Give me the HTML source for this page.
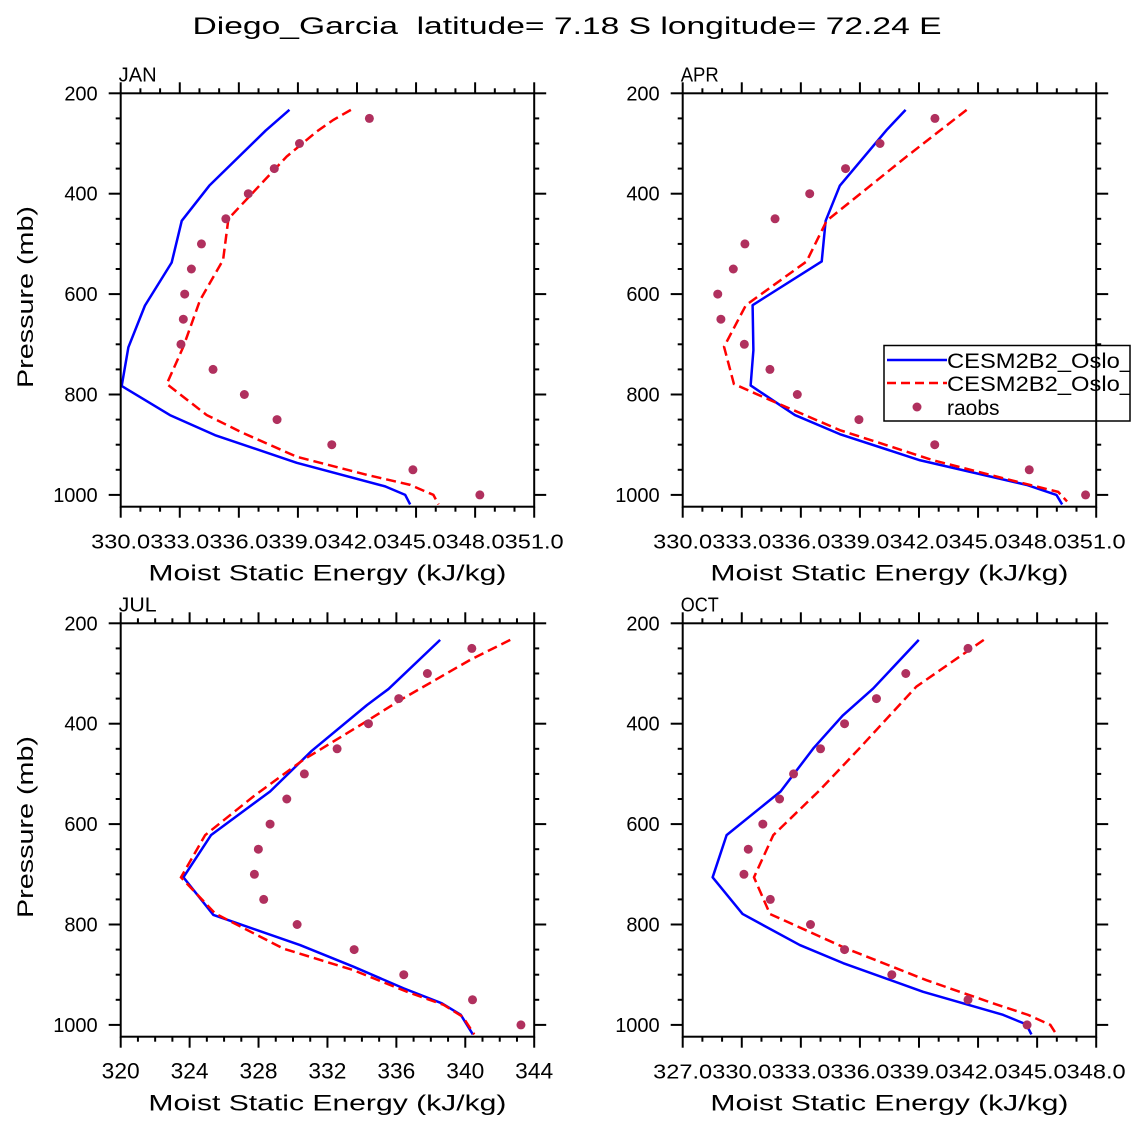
<!DOCTYPE html>
<html><head><meta charset="utf-8"><style>
html,body{margin:0;padding:0;background:#fff;}
svg{display:block;font-family:"Liberation Sans",sans-serif;}
</style></head><body>
<svg id="c" width="1135" height="1135" viewBox="0 0 1135 1135" xmlns="http://www.w3.org/2000/svg">
<text x="567" y="34" font-size="24" text-anchor="middle" textLength="749" lengthAdjust="spacingAndGlyphs" xml:space="preserve">Diego_Garcia  latitude= 7.18 S longitude= 72.24 E</text>
</svg>
<script>
// JAN
const janBlueP=[233,274,384,454,537,623,706,783,841,881,936,983,1000,1019];
const janBlueV=[338.57,337.37,334.50,333.10,332.59,331.23,330.39,330.05,332.5,334.79,338.94,343.43,344.45,344.7];
const janRedP=[233,253,276,326,450,532,612,705,779,841,877,924,960,980,1000,1019];
const janRedV=[341.69,340.8,339.96,338.43,335.47,335.2,334.03,333.18,332.34,334.37,336.23,338.94,342.5,344.7,345.88,346.14];
const janObsV=[342.63,339.08,337.8,336.48,335.34,334.1,333.59,333.25,333.18,333.06,334.69,336.28,337.94,340.72,344.84,348.24];
// APR
const aprBlueP=[233,273,384,454,535,622,712,782,841,879,931,980,1000,1019];
const aprBlueV=[341.32,340.36,337.98,337.26,337.06,333.55,333.59,333.45,335.7,337.98,342.05,347.46,348.98,349.27];
const aprRedP=[233,326,454,535,622,705,779,811,871,931,970,994,1013];
const aprRedV=[344.42,341.37,337.31,336.29,333.21,332.1,332.6,334.43,337.98,342.72,346.6,349.07,349.52];
const aprObsV=[342.81,340.02,338.27,336.45,334.69,333.16,332.57,331.78,331.94,333.13,334.43,335.82,338.95,342.8,347.6,350.46];
// JUL
const julBlueP=[233,331,363,454,535,622,706,781,841,884,927,957,980,1019];
const julBlueV=[338.54,335.54,334.29,331.09,328.67,325.24,323.64,325.38,330.41,333.51,336.41,338.64,339.74,340.44];
const julRedP=[233,273,353,399,472,545,622,706,778,848,891,934,960,984,1019];
const julRedV=[342.61,340.28,336.22,334.09,330.6,327.7,324.9,323.5,325.48,329.44,333.51,336.61,338.74,339.86,340.52];
const julObsV=[340.38,337.8,336.14,334.38,332.56,330.66,329.64,328.67,327.99,327.76,328.3,330.24,333.55,336.43,340.42,343.23];
// OCT
const octBlueP=[233,330,384,448,535,622,706,779,841,877,934,980,999,1019];
const octBlueV=[338.99,336.67,335.12,333.66,331.97,329.23,328.52,330.04,332.95,335.15,339.21,343.27,344.45,344.71];
const octRedP=[233,326,448,532,622,706,779,848,911,957,980,1000,1019];
const octRedV=[342.29,338.87,336.0,333.97,331.6,330.62,331.43,335.32,339.38,342.76,344.54,345.67,345.98];
const octObsV=[341.49,338.33,336.84,335.22,334.0,332.63,331.92,331.07,330.33,330.11,331.45,333.49,335.22,337.62,341.49,344.49];
const obsP=[250,300,350,400,450,500,550,600,650,700,750,800,850,900,950,1000];
const yTicks=[200,400,600,800,1000];
const legendLabels=["CESM2B2_Oslo_CAM6","CESM2B2_Oslo_CAM6","raobs"];

const NS="http://www.w3.org/2000/svg";
const svg=document.getElementById('c');
function mk(tag,attrs,parent){const e=document.createElementNS(NS,tag);for(const k in attrs)e.setAttribute(k,attrs[k]);(parent||svg).appendChild(e);return e;}

const panels=[
 {name:'jan',label:'JAN',L:120.7,T:93.3,xmin:330,xmax:351,major:3,minor:1,dec:1,b:[janBlueP,janBlueV],r:[janRedP,janRedV],o:janObsV},
 {name:'apr',label:'APR',L:682.7,T:93.3,xmin:330,xmax:351,major:3,minor:1,dec:1,b:[aprBlueP,aprBlueV],r:[aprRedP,aprRedV],o:aprObsV,legend:true},
 {name:'jul',label:'JUL',L:120.7,T:623.3,xmin:320,xmax:344,major:4,minor:1,dec:0,b:[julBlueP,julBlueV],r:[julRedP,julRedV],o:julObsV},
 {name:'oct',label:'OCT',L:682.7,T:623.3,xmin:327,xmax:348,major:3,minor:1,dec:1,b:[octBlueP,octBlueV],r:[octRedP,octRedV],o:octObsV}
];
const W=413.5,H=413.4,PS=0.502;

panels.forEach(pn=>{
 const g=mk('g',{});
 
 
 const xs=v=>pn.L+(v-pn.xmin)/(pn.xmax-pn.xmin)*W;
 const ys=p=>pn.T+(p-200)*PS;
 const B=pn.T+H,R=pn.L+W;
 const ml=mk('text',{x:pn.L-2,y:pn.T-12,'font-size':20,textLength:38,lengthAdjust:'spacingAndGlyphs'},g);
 
 
 ml.textContent=pn.label;
 const tk=mk('g',{stroke:'#000','stroke-width':2},g);
 
 
 for(let v=pn.xmin;v<=pn.xmax+1e-6;v+=pn.minor){
   const isM=Math.abs((v-pn.xmin)/pn.major-Math.round((v-pn.xmin)/pn.major))<1e-6;
   const len=isM?11:5,x=xs(v);
   mk('line',{x1:x,x2:x,y1:B,y2:B+len},tk);
   mk('line',{x1:x,x2:x,y1:pn.T,y2:pn.T-len},tk);
   if(isM){
     const t=mk('text',{x:x,y:B+42,'font-size':pn.dec>0?20:22,'text-anchor':'middle',stroke:'none'},g);
     
     
     const s=v.toFixed(pn.dec);
     if(pn.dec>0){t.setAttribute('textLength',59);}else{t.setAttribute('textLength',38);}
     t.setAttribute('lengthAdjust','spacingAndGlyphs');
     t.textContent=s;
   }
 }
 for(let p=200;p<=1000;p+=50){
   const isM=(p%200===0),len=isM?12:5,y=ys(p);
   mk('line',{x1:pn.L,x2:pn.L-len,y1:y,y2:y},tk);
   mk('line',{x1:R,x2:R+len,y1:y,y2:y},tk);
 }
 yTicks.forEach(p=>{
   const t=mk('text',{x:pn.L-23,y:ys(p)+7,'font-size':20,'text-anchor':'end'},g);
   
   
   t.textContent=p;
 });
 const bl=mk('polyline',{points:pn.b[0].map((p,i)=>xs(pn.b[1][i])+','+ys(p)).join(' '),fill:'none',stroke:'#0000ff','stroke-width':2.5,'stroke-linejoin':'round'},g);
 
 
 const rl=mk('polyline',{points:pn.r[0].map((p,i)=>xs(pn.r[1][i])+','+ys(p)).join(' '),fill:'none',stroke:'#ff0000','stroke-width':2.5,'stroke-dasharray':'10,5'},g);
 
 
 obsP.forEach((p,i)=>{
   const c=mk('circle',{cx:xs(pn.o[i]),cy:ys(p),r:4.5,fill:'#b0305e'},g);
   
   
 });
 const fr=mk('rect',{x:pn.L,y:pn.T,width:W,height:H,fill:'none',stroke:'#000','stroke-width':2},g);
 
 
 const xt=mk('text',{x:pn.L+W/2,y:B+74,'font-size':22,'text-anchor':'middle',textLength:358,lengthAdjust:'spacingAndGlyphs'},g);
 
 
 xt.textContent='Moist Static Energy (kJ/kg)';
 if(pn.L<300){
   const cy=pn.T+H/2-3;
   const yt=mk('text',{x:0,y:0,'font-size':22,'text-anchor':'middle',transform:'translate(33,'+cy+') rotate(-90)',textLength:182,lengthAdjust:'spacingAndGlyphs'},g);
   
   
   yt.textContent='Pressure (mb)';
 }
 if(pn.legend){
   const lg=mk('g',{},g);
   
   
   mk('clipPath',{id:'lgclip'},lg).appendChild(document.createElementNS(NS,'rect'));
   const cr=lg.querySelector('clipPath rect');cr.setAttribute('x',884);cr.setAttribute('y',345);cr.setAttribute('width',246);cr.setAttribute('height',76);
   mk('rect',{x:884,y:345.5,width:246,height:75.5,fill:'#fff',stroke:'#000','stroke-width':1.5},lg);
   const inner=mk('g',{'clip-path':'url(#lgclip)'},lg);
   const e1=mk('line',{x1:887,x2:947,y1:360,y2:360,stroke:'#0000ff','stroke-width':2.5},inner);
   
   
   const e2=mk('line',{x1:887,x2:947,y1:383,y2:383,stroke:'#ff0000','stroke-width':2.5,'stroke-dasharray':'9,5'},inner);
   
   
   const e3=mk('circle',{cx:917,cy:407,r:4.5,fill:'#b0305e'},inner);
   
   
   [368,391,415].forEach((y,i)=>{
     const t=mk('text',{x:947,y:y,'font-size':21},inner);
     
     
     if(i<2){t.setAttribute('textLength',252);t.setAttribute('lengthAdjust','spacingAndGlyphs');}
     t.textContent=legendLabels[i];
   });
   mk('line',{x1:R,x2:R,y1:345,y2:421,stroke:'#000','stroke-width':2},lg);
 }
});
</script>
</body></html>
